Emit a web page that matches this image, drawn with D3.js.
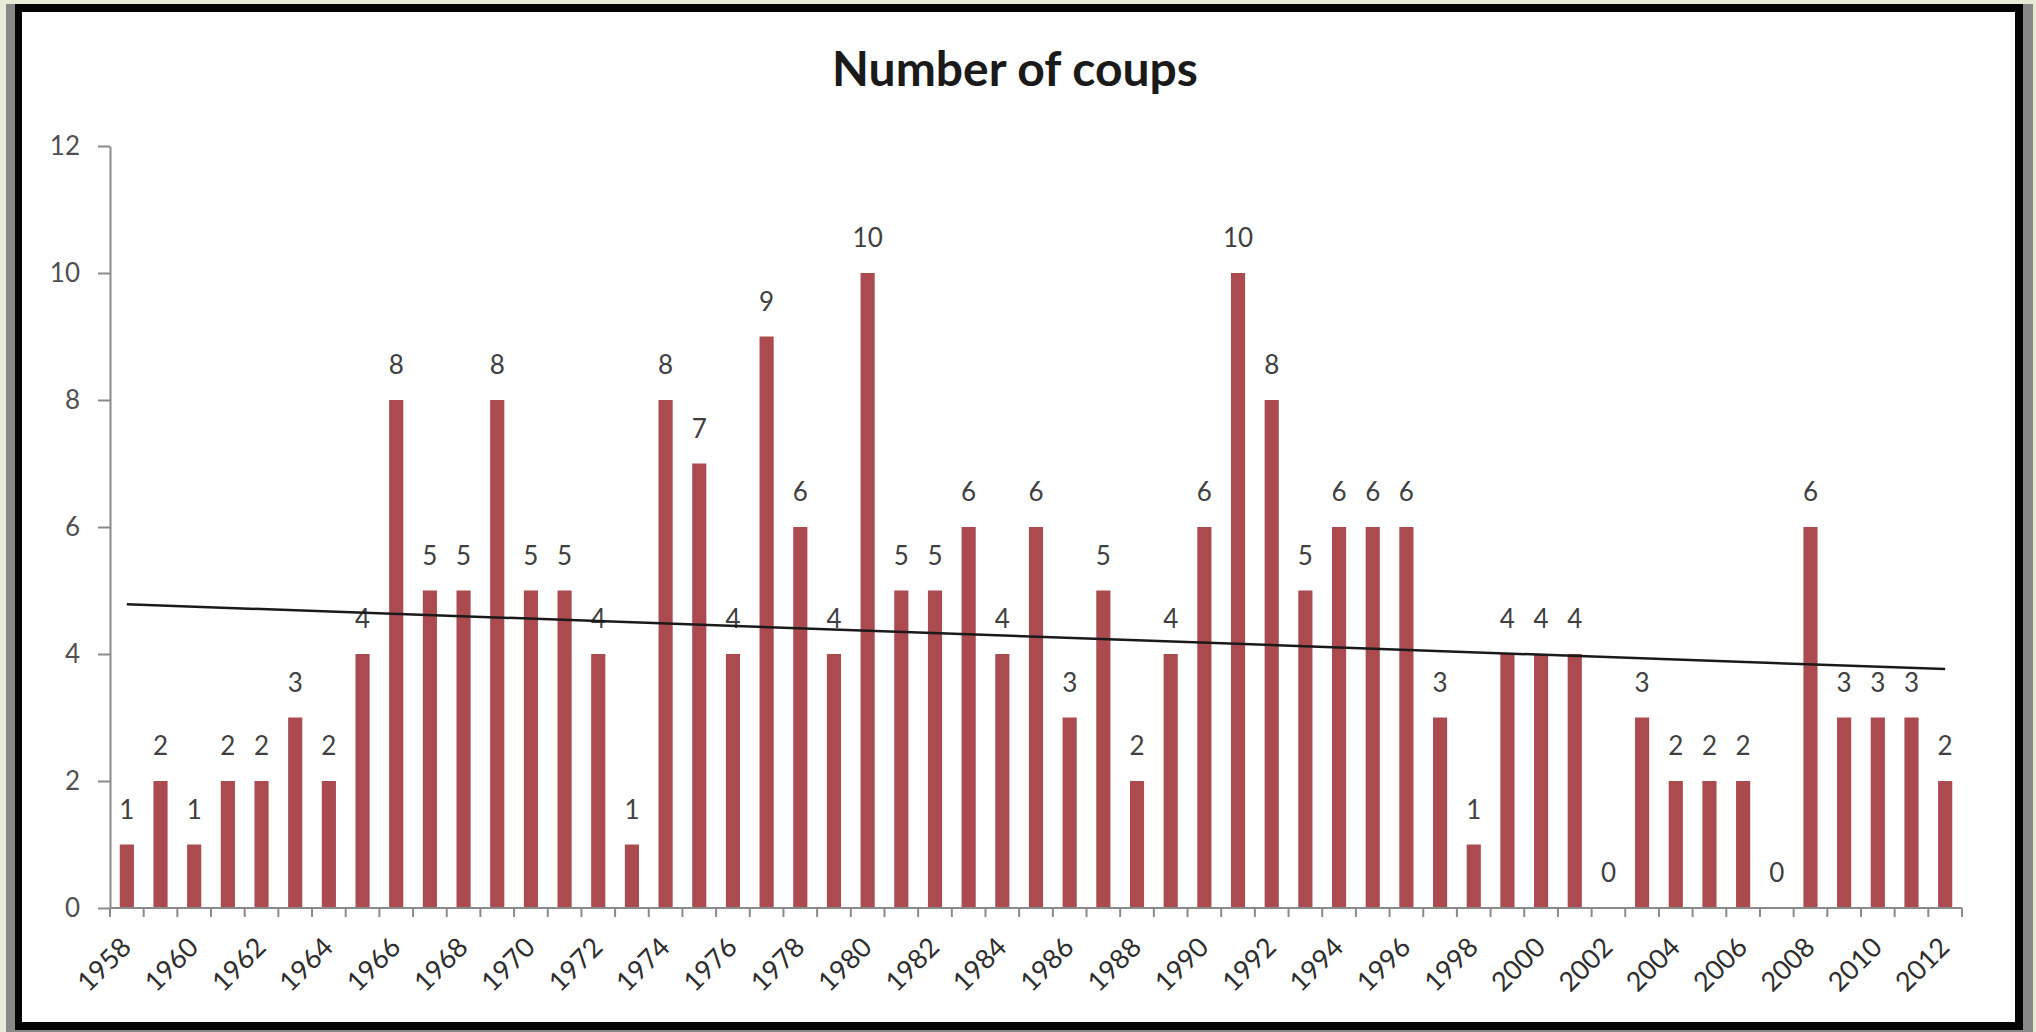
<!DOCTYPE html>
<html>
<head>
<meta charset="utf-8">
<script src="https://cdn.jsdelivr.net/npm/d3@7/dist/d3.min.js"></script>
<style>
  html, body { margin: 0; padding: 0; background: #e6ead6; }
  svg { display: block; }
</style>
</head>
<body>
<svg id="chart" width="2036" height="1032"></svg>
<script>
// Yearly number of coups, 1958–2012
const years = d3.range(1958, 2013);
const coups = [
  1, 2, 1, 2, 2, 3, 2, 4, 8, 5,
  5, 8, 5, 5, 4, 1, 8, 7, 4, 9,
  6, 4, 10, 5, 5, 6, 4, 6, 3, 5,
  2, 4, 6, 10, 8, 5, 6, 6, 6, 3,
  1, 4, 4, 4, 0, 3, 2, 2, 2, 0,
  6, 3, 3, 3, 2
];
const yTicks = [0, 2, 4, 6, 8, 10, 12];
const xTickLabels = years.filter(y => (y - 1958) % 2 === 0);
const title = "Number of coups";

const data = years.map((y, i) => ({ year: y, value: coups[i] }));

const svg = d3.select("#chart");

// slide frame: grey edge, black border, white card
svg.append("rect").attr("x", 6).attr("y", 4).attr("width", 2027).attr("height", 1028).attr("fill", "#888");
svg.append("rect").attr("x", 15).attr("y", 4).attr("width", 2008).attr("height", 1026).attr("fill", "#050505");
svg.append("rect").attr("x", 22).attr("y", 12).attr("width", 1993).attr("height", 1010).attr("fill", "#ffffff");

const x = d3.scaleBand()
  .domain(years)
  .range([110, 1962])
  .paddingInner(0.58)
  .paddingOuter(0.29);

const y = d3.scaleLinear().domain([0, 12]).range([908, 146]);

const font = "Lato, 'Open Sans', sans-serif";

// title
svg.append("text")
  .attr("x", 1015).attr("y", 86)
  .attr("text-anchor", "middle")
  .attr("font-family", font)
  .attr("font-weight", 700)
  .attr("font-size", 48)
  .attr("fill", "#1a1a1a")
  .text(title);

// y axis
const yAxis = svg.append("g")
  .attr("transform", "translate(110,0)")
  .call(d3.axisLeft(y).tickValues(yTicks).tickSize(12).tickPadding(18).tickSizeOuter(0));
yAxis.select(".domain").attr("stroke", "#8a8a8a").attr("stroke-width", 2);
yAxis.selectAll(".tick line").attr("stroke", "#8a8a8a").attr("stroke-width", 2);
yAxis.selectAll(".tick text")
  .attr("font-family", font)
  .attr("font-size", 26)
  .attr("fill", "#505050");

// bars
svg.append("g").selectAll("rect")
  .data(data)
  .join("rect")
  .attr("x", d => x(d.year))
  .attr("y", d => y(d.value))
  .attr("width", x.bandwidth())
  .attr("height", d => y(0) - y(d.value))
  .attr("fill", "#ab4b4f");

// x axis line and tick marks between categories
const gap = (x.step() - x.bandwidth()) / 2;
const bounds = years.map(yr => x(yr) - gap).concat([x(years[years.length - 1]) + x.bandwidth() + gap]);
const xAxis = svg.append("g");
xAxis.append("line")
  .attr("x1", x.range()[0]).attr("x2", x.range()[1])
  .attr("y1", y(0)).attr("y2", y(0))
  .attr("stroke", "#8a8a8a").attr("stroke-width", 2);
xAxis.selectAll("line.tick")
  .data(bounds)
  .join("line")
  .attr("class", "tick")
  .attr("x1", d => d).attr("x2", d => d)
  .attr("y1", y(0)).attr("y2", y(0) + 9)
  .attr("stroke", "#8a8a8a").attr("stroke-width", 2);

// rotated year labels, every second year
xAxis.selectAll("text")
  .data(xTickLabels)
  .join("text")
  .attr("transform", d => `translate(${x(d) + x.bandwidth() / 2 + 6},${y(0) + 41}) rotate(-45)`)
  .attr("text-anchor", "end")
  .attr("font-family", font)
  .attr("font-size", 27)
  .attr("fill", "#2e2e2e")
  .text(d => d);

// value labels above bars
svg.append("g").selectAll("text")
  .data(data)
  .join("text")
  .attr("x", d => x(d.year) + x.bandwidth() / 2)
  .attr("y", d => y(d.value) - 26)
  .attr("text-anchor", "middle")
  .attr("font-family", font)
  .attr("font-size", 26)
  .attr("fill", "#404040")
  .text(d => d.value);

// linear least-squares trendline across the categories
const n = data.length;
const idx = d3.range(n);
const mx = d3.mean(idx), my = d3.mean(coups);
const slope = d3.sum(idx, i => (i - mx) * (coups[i] - my)) / d3.sum(idx, i => (i - mx) * (i - mx));
const intercept = my - slope * mx;
const trend = [0, n - 1].map(i => ({ year: years[i], value: intercept + slope * i }));
svg.append("path")
  .datum(trend)
  .attr("fill", "none")
  .attr("stroke", "#1a1a1a")
  .attr("stroke-width", 2.5)
  .attr("d", d3.line().x(d => x(d.year) + x.bandwidth() / 2).y(d => y(d.value)));
</script>
</body>
</html>
